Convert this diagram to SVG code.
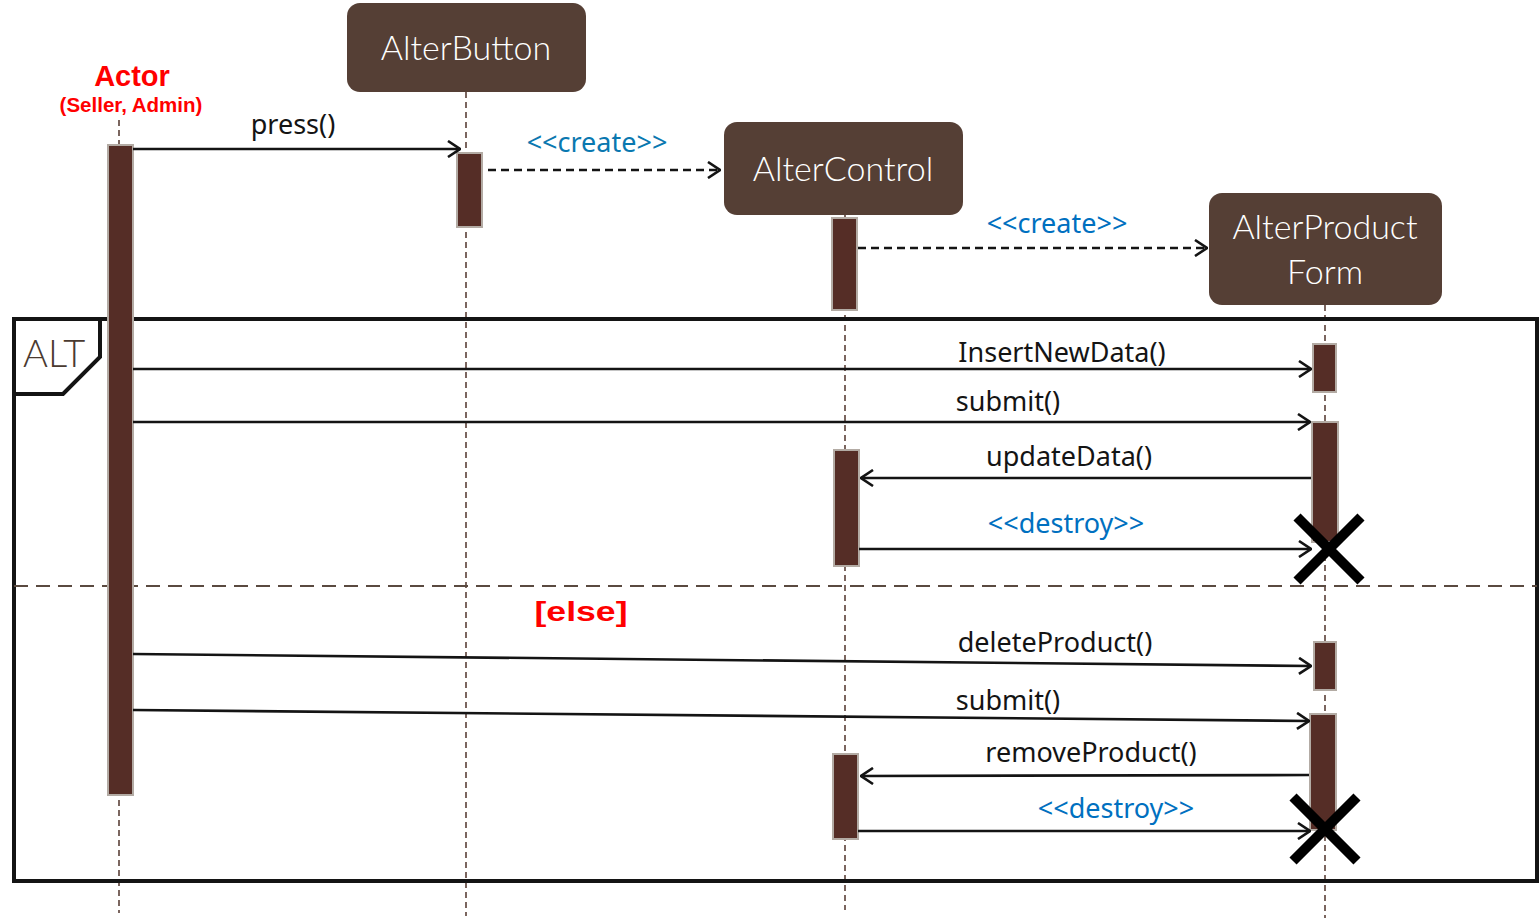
<svg xmlns="http://www.w3.org/2000/svg" width="1540" height="924" viewBox="0 0 1540 924">
<defs>
<style>
.box{fill:#553f35}
.boxt{fill:#ffffff;font-family:Lato,"Open Sans",sans-serif;font-weight:300;font-size:34px;text-anchor:middle}
.life{stroke:#5a4038;stroke-width:1.6;stroke-dasharray:6 4;fill:none}
.act{fill:#552d26;stroke:#b3aba4;stroke-width:2}
.msg{stroke:#141414;stroke-width:2.6;fill:none}
.dmsg{stroke:#141414;stroke-width:2.6;fill:none;stroke-dasharray:8 5}
.lbl{font-family:"Noto Sans","Open Sans",sans-serif;font-size:27px;fill:#141414;text-anchor:middle}
.blue{fill:#0070c0}
.red{font-family:"Liberation Sans",Arial,sans-serif;font-weight:bold;fill:#ff0000;text-anchor:middle}
.x{stroke:#000;stroke-width:10;stroke-linecap:butt}
</style>
<marker id="arr" viewBox="0 0 14 18" refX="13" refY="9" markerWidth="14" markerHeight="18" markerUnits="userSpaceOnUse" orient="auto">
<path d="M1,1 L13,9 L1,17" fill="none" stroke="#141414" stroke-width="2.6"/>
</marker>
</defs>
<rect width="1540" height="924" fill="#ffffff"/>

<g id="lifelines">
<line class="life" x1="119" y1="120" x2="119" y2="913"/>
<line class="life" x1="466" y1="92" x2="466" y2="916"/>
<line class="life" x1="845" y1="215" x2="845" y2="910"/>
<line class="life" x1="1325" y1="305" x2="1325" y2="918"/>
</g>

<g id="actor">
<text class="red" x="132" y="86" font-size="29">Actor</text>
<text class="red" x="131" y="112" font-size="20.5">(Seller, Admin)</text>
</g>

<g id="alterbutton">
<rect class="box" x="347" y="3" width="239" height="89" rx="13"/>
<text class="boxt" x="466" y="60">AlterButton</text>
</g>

<g id="altercontrol">
<rect class="box" x="724" y="122" width="239" height="93" rx="13"/>
<text class="boxt" x="843" y="181">AlterControl</text>
</g>

<g id="alterproductform">
<rect class="box" x="1209" y="193" width="233" height="112" rx="13"/>
<text class="boxt" x="1325" y="239">AlterProduct</text>
<text class="boxt" x="1325" y="284">Form</text>
</g>

<g id="frame">
<rect x="14" y="319" width="1523" height="562" fill="none" stroke="#141414" stroke-width="4"/>
<path d="M14,319 L100,319 L100,357 L63,394 L14,394" fill="none" stroke="#141414" stroke-width="4"/>
<text x="23" y="367" font-family="Lato,'Open Sans',sans-serif" font-weight="300" font-size="38" fill="#4a3a30">ALT</text>
<line x1="14" y1="586" x2="1537" y2="586" stroke="#5a4a40" stroke-width="2" stroke-dasharray="14 8"/>
<text class="red" x="581" y="621" font-size="28" textLength="93" lengthAdjust="spacingAndGlyphs">[else]</text>
</g>

<g id="activations">
<rect class="act" x="108" y="145" width="25" height="650"/>
<rect class="act" x="457" y="153" width="25" height="74"/>
<rect class="act" x="832" y="218" width="25" height="92"/>
<rect class="act" x="1313" y="344" width="23" height="48"/>
<rect class="act" x="1312" y="422" width="26" height="120"/>
<rect class="act" x="834" y="450" width="25" height="116"/>
<rect class="act" x="1314" y="642" width="22" height="48"/>
<rect class="act" x="1310" y="714" width="26" height="116"/>
<rect class="act" x="833" y="754" width="25" height="85"/>
</g>

<g id="connectors">
<line class="msg" x1="133" y1="149" x2="460" y2="149" marker-end="url(#arr)"/>
<line class="dmsg" x1="488" y1="170" x2="720" y2="170" marker-end="url(#arr)"/>
<line class="dmsg" x1="858" y1="248" x2="1207" y2="248" marker-end="url(#arr)"/>
<line class="msg" x1="133" y1="369" x2="1311" y2="369" marker-end="url(#arr)"/>
<line class="msg" x1="133" y1="422" x2="1310" y2="422" marker-end="url(#arr)"/>
<line class="msg" x1="1311" y1="478" x2="861" y2="478" marker-end="url(#arr)"/>
<line class="msg" x1="859" y1="549" x2="1311" y2="549" marker-end="url(#arr)"/>
<line class="msg" x1="133" y1="654" x2="1311" y2="666" marker-end="url(#arr)"/>
<line class="msg" x1="133" y1="710" x2="1309" y2="721" marker-end="url(#arr)"/>
<line class="msg" x1="1309" y1="775" x2="861" y2="776" marker-end="url(#arr)"/>
<line class="msg" x1="858" y1="831" x2="1310" y2="831" marker-end="url(#arr)"/>
</g>

<g id="labels">
<text class="lbl" x="293" y="134">press()</text>
<text class="lbl" x="597" y="152" fill="#0a78b0" style="fill:#0a78b0">&lt;&lt;create&gt;&gt;</text>
<text class="lbl blue" x="1057" y="233">&lt;&lt;create&gt;&gt;</text>
<text class="lbl" x="1062" y="362">InsertNewData()</text>
<text class="lbl" x="1008" y="411">submit()</text>
<text class="lbl" x="1069" y="466">updateData()</text>
<text class="lbl blue" x="1066" y="533">&lt;&lt;destroy&gt;&gt;</text>
<text class="lbl" x="1055" y="652">deleteProduct()</text>
<text class="lbl" x="1008" y="710">submit()</text>
<text class="lbl" x="1091" y="762">removeProduct()</text>
<text class="lbl blue" x="1116" y="818">&lt;&lt;destroy&gt;&gt;</text>
</g>

<g id="destroy-marks">
<path class="x" d="M1297,517 L1361,581 M1361,517 L1297,581"/>
<path class="x" d="M1293,797 L1357,861 M1357,797 L1293,861"/>
</g>
</svg>
